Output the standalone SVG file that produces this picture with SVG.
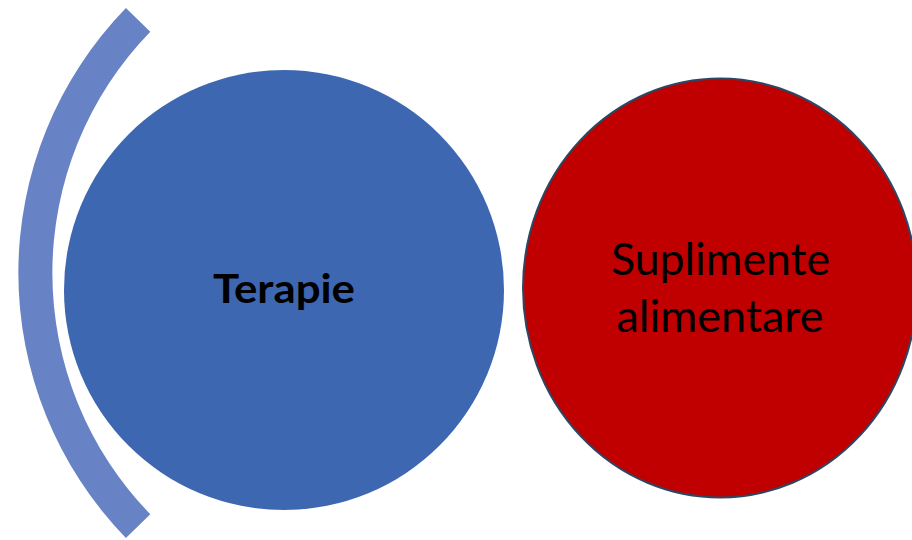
<svg xmlns="http://www.w3.org/2000/svg" width="912" height="540" viewBox="0 0 912 540">
  <style>
    .lbl { font-family: Lato, "Open Sans", "Liberation Sans", sans-serif; fill: #000; text-anchor: middle; }
  </style>
  <rect width="912" height="540" fill="#FFFFFF"/>
  <g id="arc">
    <path d="M 125.9 8.1 A 380 380 0 0 0 125.9 537.9 L 150.3 514.2 A 346 346 0 0 1 150.3 31.8 Z" fill="#6883C5"/>
  </g>
  <g id="connectors"></g>
  <g id="node-terapie">
    <circle cx="284" cy="290" r="220" fill="#3E67B1"/>
    <text class="lbl" x="284" y="303" font-size="40" font-weight="bold" textLength="142" lengthAdjust="spacingAndGlyphs">Terapie</text>
  </g>
  <g id="node-suplimente">
    <ellipse cx="720" cy="288" rx="197" ry="209.5" fill="#C00000" stroke="#2C4763" stroke-width="2"/>
    <text class="lbl" x="720.5" y="275" font-size="44" textLength="219" lengthAdjust="spacingAndGlyphs">Suplimente</text>
    <text class="lbl" x="720" y="332" font-size="44" textLength="207" lengthAdjust="spacingAndGlyphs">alimentare</text>
  </g>
</svg>
